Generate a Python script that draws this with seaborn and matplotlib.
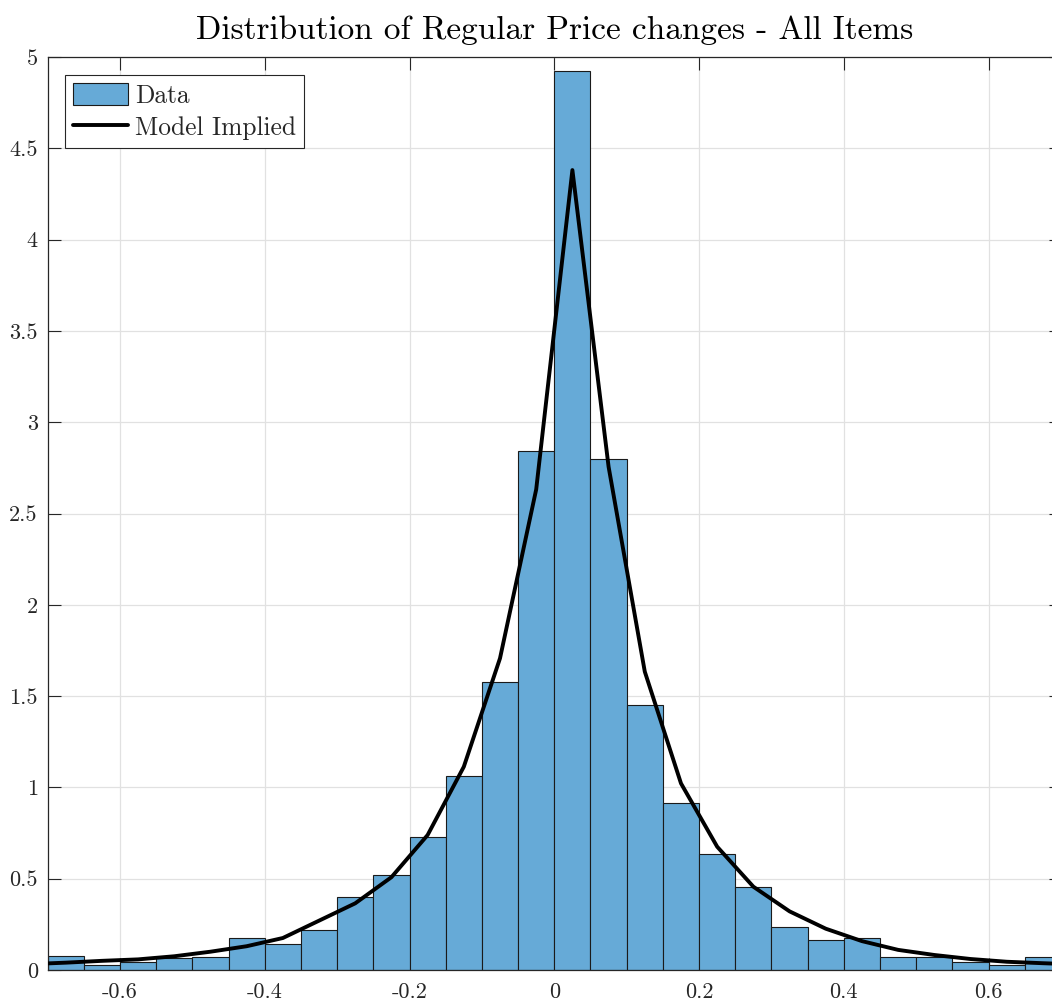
import numpy as np
import pandas as pd
import matplotlib
matplotlib.use("Agg")
import matplotlib.pyplot as plt
import seaborn as sns

# Histogram bin edges (width 0.05) and the empirical density in each bin
bin_edges = [round(-0.70 + 0.05 * i, 2) for i in range(29)]
data_density = [
    0.078, 0.026, 0.046, 0.064, 0.073, 0.173, 0.140, 0.219, 0.401, 0.518,
    0.728, 1.064, 1.576, 2.842, 4.923, 2.798, 1.451, 0.916, 0.637, 0.455,
    0.234, 0.163, 0.175, 0.073, 0.070, 0.046, 0.026, 0.073,
]

# Model-implied density evaluated on a grid of price changes
model_x = [
    -0.725, -0.675, -0.625, -0.575, -0.525, -0.475, -0.425, -0.375, -0.325,
    -0.275, -0.225, -0.175, -0.125, -0.075, -0.025, 0.025, 0.075, 0.125,
    0.175, 0.225, 0.275, 0.325, 0.375, 0.425, 0.475, 0.525, 0.575, 0.625,
    0.675, 0.725,
]
model_density = [
    0.032, 0.040, 0.050, 0.058, 0.075, 0.100, 0.130, 0.175, 0.270,
    0.365, 0.508, 0.739, 1.113, 1.707, 2.632, 4.381, 2.756, 1.634,
    1.022, 0.675, 0.456, 0.321, 0.226, 0.158, 0.110, 0.082, 0.060, 0.045,
    0.037, 0.030,
]

x_ticks = [-0.6, -0.4, -0.2, 0, 0.2, 0.4, 0.6]
x_tick_labels = ["-0.6", "-0.4", "-0.2", "0", "0.2", "0.4", "0.6"]
y_ticks = [0, 0.5, 1, 1.5, 2, 2.5, 3, 3.5, 4, 4.5, 5]
y_tick_labels = ["0", "0.5", "1", "1.5", "2", "2.5", "3", "3.5", "4", "4.5", "5"]

sns.set_style("ticks")
plt.rcParams["font.family"] = ["cmr10", "DejaVu Serif"]
plt.rcParams["axes.unicode_minus"] = False
plt.rcParams["mathtext.fontset"] = "cm"

bar_color = "#66AAD7"
axis_color = "#262626"
grid_color = "#e1e1e1"

centers = [(bin_edges[i] + bin_edges[i + 1]) / 2 for i in range(len(data_density))]
hist_df = pd.DataFrame({"change": centers, "density": data_density})
model_df = pd.DataFrame({"change": model_x, "density": model_density})

fig = plt.figure(figsize=(10.52, 10.01), dpi=100)
ax = fig.add_axes([0.0452, 0.031, 0.9634, 0.912])

sns.histplot(
    data=hist_df, x="change", weights="density", bins=bin_edges,
    stat="count", color=bar_color, alpha=1.0, edgecolor="#1a1a1a",
    linewidth=0.8, ax=ax, label="Data", zorder=2,
)
sns.lineplot(
    data=model_df, x="change", y="density", color="black", linewidth=2.8,
    ax=ax, label="Model Implied", zorder=3, sort=False,
)

ax.set_xlim(-0.7, 0.7)
ax.set_ylim(0, 5)
ax.set_xticks(x_ticks)
ax.set_xticklabels(x_tick_labels)
ax.set_yticks(y_ticks)
ax.set_yticklabels(y_tick_labels)
ax.set_xlabel("")
ax.set_ylabel("")

ax.grid(True, color=grid_color, linewidth=0.9, zorder=0)
ax.set_axisbelow(True)
for side in ["top", "bottom", "left", "right"]:
    ax.spines[side].set_visible(True)
    ax.spines[side].set_color(axis_color)
    ax.spines[side].set_linewidth(0.9)
ax.tick_params(axis="both", direction="in", length=9, width=0.8,
               colors=axis_color, labelcolor=axis_color, labelsize=16,
               top=True, right=True)
ax.tick_params(axis="x", pad=9)
ax.tick_params(axis="y", pad=7)

ax.set_title("Distribution of Regular Price changes - All Items",
             fontsize=24, color="black", pad=13)

# Legend: histogram entry first, then the model curve
handles, labels = ax.get_legend_handles_labels()
order = [labels.index("Data"), labels.index("Model Implied")]
leg = ax.legend([handles[i] for i in order], [labels[i] for i in order],
                loc="upper left", fontsize=18.3, frameon=True, fancybox=False,
                edgecolor=axis_color, framealpha=1, borderpad=0.32,
                handlelength=2.15, handleheight=0.95, handletextpad=0.28,
                labelspacing=0.3, borderaxespad=0.7)
leg.get_frame().set_linewidth(0.8)

fig.savefig("out.png", dpi=100)
